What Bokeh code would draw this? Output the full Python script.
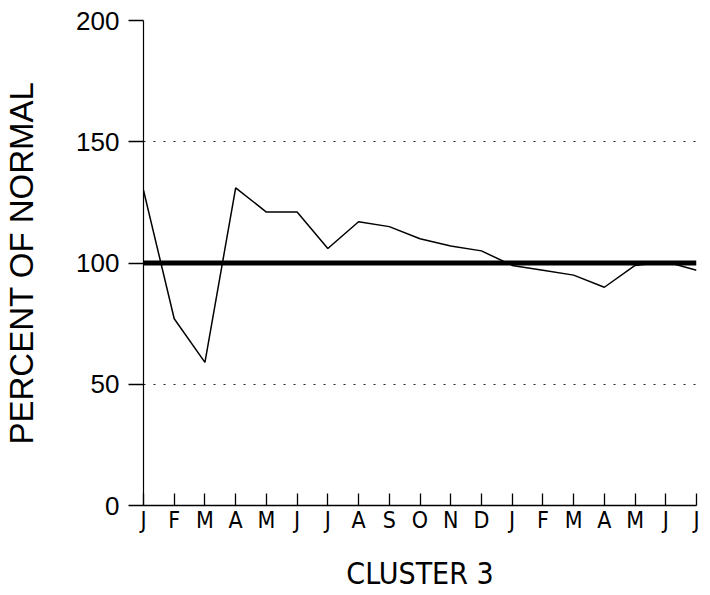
from bokeh.plotting import figure
from bokeh.models import FixedTicker, Span, Range1d
from bokeh.embed import file_html
from bokeh.resources import INLINE

# ---- data ----
month_labels = ["J", "F", "M", "A", "M", "J", "J", "A", "S", "O", "N", "D",
                "J", "F", "M", "A", "M", "J", "J"]
percent_of_normal = [130, 77, 59, 131, 121, 121, 106, 117, 115, 110, 107, 105,
                     99, 97, 95, 90, 99, 100.5, 97]
normal_level = 100
y_ticks = [0, 50, 100, 150, 200]
grid_levels = [50, 150, 200]
x_title = "CLUSTER 3"
y_title = "PERCENT OF NORMAL"

x_pos = list(range(len(month_labels)))

p = figure(width=700, height=594, output_backend="svg", toolbar_location=None,
           x_range=Range1d(0, len(month_labels) - 1), y_range=Range1d(0, 200),
           min_border_left=142, min_border_right=4, min_border_top=20,
           min_border_bottom=89)
p.outline_line_color = None
p.background_fill_color = "white"
p.border_fill_color = "white"

# grid
p.xgrid.visible = False
p.ygrid.ticker = FixedTicker(ticks=grid_levels)
p.ygrid.grid_line_color = "#222222"
p.ygrid.grid_line_width = 1.2
p.ygrid.grid_line_dash = "2 8"

# normal reference line
p.add_layout(Span(location=normal_level, dimension="width", line_color="black",
                  line_width=5))

# series
p.line(x_pos, percent_of_normal, line_color="black", line_width=1.5)

# x axis
xa = p.xaxis[0]
xa.ticker = FixedTicker(ticks=x_pos)
xa.major_label_overrides = {i: m for i, m in enumerate(month_labels)}
xa.major_tick_in = 12
xa.major_tick_out = 0
xa.minor_tick_line_color = None
xa.axis_line_color = "black"
xa.axis_line_width = 1.5
xa.major_tick_line_width = 1.3
xa.major_label_text_font = "DejaVu Sans Condensed"
xa.major_label_text_font_size = "23px"
xa.major_label_text_color = "black"
xa.major_label_standoff = 1
xa.axis_label = x_title
xa.axis_label_text_font = "DejaVu Sans Condensed"
xa.axis_label_text_font_size = "30px"
xa.axis_label_text_font_style = "normal"
xa.axis_label_text_color = "black"
xa.axis_label_standoff = 20

# y axis
ya = p.yaxis[0]
ya.ticker = FixedTicker(ticks=y_ticks)
ya.major_tick_in = 0
ya.major_tick_out = 15
ya.minor_tick_line_color = None
ya.axis_line_color = "black"
ya.axis_line_width = 1.2
ya.major_tick_line_width = 1.3
ya.major_label_text_font = "Liberation Sans"
ya.major_label_text_font_size = "26px"
ya.major_label_text_color = "black"
ya.major_label_standoff = 9
ya.axis_label = y_title
ya.axis_label_text_font = "Liberation Sans"
ya.axis_label_text_font_size = "33px"
ya.axis_label_text_font_style = "normal"
ya.axis_label_text_color = "black"
ya.axis_label_standoff = 33

open("out.html", "w").write(file_html(p, INLINE))
